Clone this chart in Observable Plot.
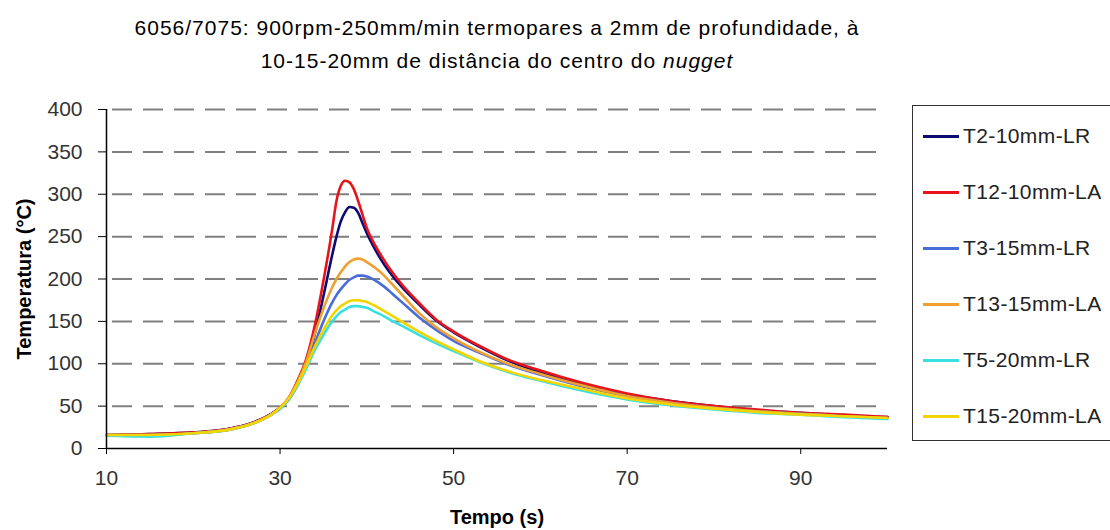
<!DOCTYPE html>
<html><head><meta charset="utf-8">
<script src="https://cdn.jsdelivr.net/npm/d3@7"></script>
<script src="https://cdn.jsdelivr.net/npm/@observablehq/plot@0.6"></script>
<style>
body{margin:0;background:#fff;width:1110px;height:530px;overflow:hidden;position:relative;font-family:"Liberation Sans",Arial,sans-serif}
#title{position:absolute;left:0;top:11px;width:994px;text-align:center;font-size:21px;letter-spacing:1px;line-height:33px;color:#000}
#chart{position:absolute;left:0;top:85px}
#legend{position:absolute;left:912px;top:105px;width:220px;height:336px;border:1.5px solid #333;box-sizing:border-box;background:#fff}
.row{position:absolute;left:10px;height:24px;display:flex;align-items:center;font-size:21px;letter-spacing:0.4px;color:#222;white-space:nowrap}
.sw{width:36px;height:0;border-top:3px solid;margin-right:4px}
</style></head>
<body>
<div id="title">6056/7075: 900rpm-250mm/min termopares a 2mm de profundidade, à<br>10-15-20mm de distância do centro do <i>nugget</i></div>
<div id="chart"></div>
<div id="legend"></div>
<script>
const times = [10,15,20,24,27,29,30,31,32,33,34,35,36,36.5,37,37.5,38,38.5,39,39.5,40,41,42,43,44,46,48,50,53,56,60,65,70,75,80,85,90,95,100];
const seriesNames = ["T2-10mm-LR","T12-10mm-LA","T3-15mm-LR","T13-15mm-LA","T5-20mm-LR","T15-20mm-LA"];
const seriesColors = ["#0c0c70","#e8141c","#4a6cd8","#eea030","#38e0e0","#f4d400"];
const T2  = [16,17,19,23,31,41,48,58,75,98,135,180,228,250,268,279,285,284,278,266,254,234,217,203,191,170,151,137,120,105,90,76,64,56,50,45,42,39,37];
const T12 = [16,17,19,23,31,41,48,60,80,105,145,198,258,292,310,316,314,306,292,276,260,239,222,207,194,172,152,138,121,106,92,77,65,56,50,46,42,40,37];
const T3  = [16,16,18,22,30,40,47,58,75,97,124,150,172,181,188,194,199,202,204,204,203,198,191,182,173,155,140,127,113,100,87,73,62,54,48,44,41,38,36];
const T13 = [16,16,18,22,30,40,48,60,78,102,135,165,190,200,208,215,220,223,224,223,220,213,204,193,182,160,143,130,114,101,88,74,62,54,48,44,41,38,36];
const T5  = [15,14,18,22,30,40,47,58,74,94,116,134,150,156,161,164,167,168,168,167,166,161,156,150,145,134,124,115,102,91,80,68,58,51,46,42,40,37,35];
const T15 = [16,16,18,22,30,40,48,59,76,97,120,140,157,163,168,171,174,175,175,174,173,168,162,156,150,138,127,117,103,92,81,70,59,52,47,43,40,38,36];
const xTicks = [10,30,50,70,90];
const yTicks = [0,50,100,150,200,250,300,350,400];
const gridValues = [50,100,150,200,250,300,350,400];

const seriesValues = [T2,T12,T3,T13,T5,T15];
const data = seriesNames.flatMap((name,k) => times.map((t,i) => ({t, v: seriesValues[k][i], name})));

const chart = Plot.plot({
  width: 1110, height: 445,
  marginLeft: 106, marginRight: 223, marginTop: 24, marginBottom: 82,
  style: {fontFamily: "'Liberation Sans', Arial, sans-serif", background: "#fff"},
  x: {domain: [10,100]},
  y: {domain: [0,400]},
  color: {domain: seriesNames, range: seriesColors},
  marks: [
    Plot.ruleY(gridValues, {stroke: "#808080", strokeWidth: 2, strokeDasharray: "20,11", insetLeft: 6, insetRight: 8}),
    Plot.line(data, {x: "t", y: "v", z: "name", stroke: "name", strokeWidth: 2.6, curve: "monotone-x"}),
    Plot.ruleX([10], {stroke: "#000", strokeWidth: 1.5}),
    Plot.ruleY([0], {stroke: "#000", strokeWidth: 1.5}),
    Plot.axisX({ticks: xTicks, tickSize: 6, tickPadding: 16, fontSize: 21, color: "#333", stroke: "#000",
      label: "Tempo (s)", labelAnchor: "center", labelArrow: "none", labelOffset: 75}),
    Plot.axisY({ticks: yTicks, tickSize: 8, tickPadding: 16, fontSize: 21, color: "#333", stroke: "#000",
      label: "Temperatura (°C)", labelAnchor: "center", labelArrow: "none", labelOffset: 90})
  ]
});
chart.querySelectorAll('g[aria-label$="axis label"] text').forEach(t => { t.style.fontWeight = "bold"; t.setAttribute("fill", "#000"); t.style.fontSize = "20px"; });
document.getElementById("chart").appendChild(chart);

const legend = document.getElementById("legend");
seriesNames.forEach((name,i) => {
  const row = document.createElement("div");
  row.className = "row";
  row.style.top = (18 + i*56) + "px";
  row.innerHTML = `<span class="sw" style="border-color:${seriesColors[i]}"></span>${name}`;
  legend.appendChild(row);
});
</script>
</body></html>
